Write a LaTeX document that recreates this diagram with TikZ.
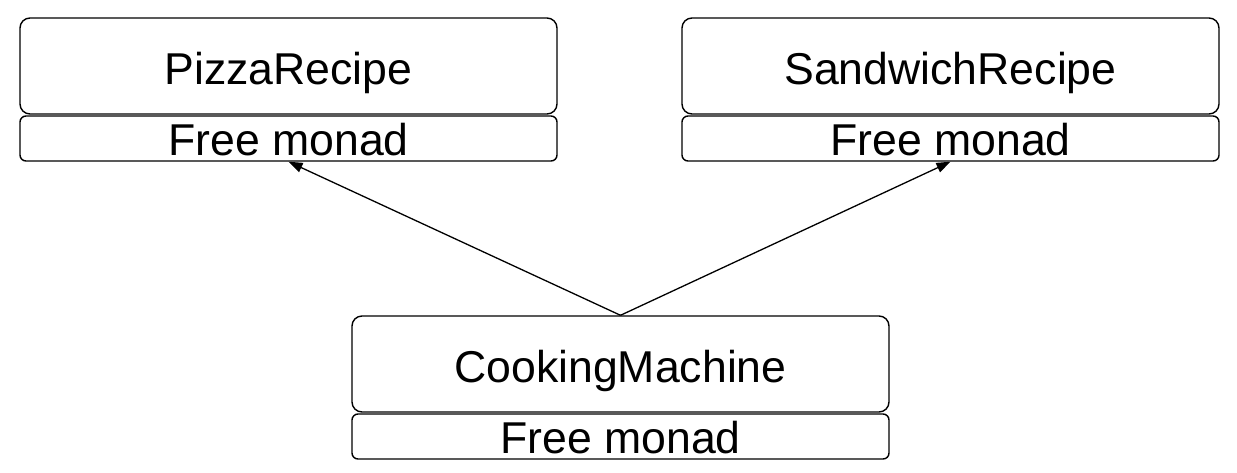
\documentclass[tikz,border=0pt]{standalone}
\usepackage{fontspec}
\setmainfont{Liberation Sans}
\usetikzlibrary{arrows.meta}
\begin{document}
\begin{tikzpicture}[x=1pt,y=-1pt,
  topbox/.style={draw, line width=1.4pt, rounded corners=10pt, minimum width=537pt, minimum height=96pt, inner sep=0pt},
  botbox/.style={draw, line width=1.4pt, rounded corners=6pt, minimum width=537pt, minimum height=45pt, inner sep=0pt},
  lbl/.style={anchor=base, inner sep=0pt, font=\fontsize{44.6pt}{50pt}\selectfont},
  conn/.style={line width=1.3pt, -{Triangle[length=14pt,width=10pt]}}]
\useasboundingbox (0,0) rectangle (1237,472);
% Pizza
\node[topbox] (pt) at (288.5,66) {};
\node[botbox] (pb) at (288.5,138.5) {};
\node[lbl] (ptl) at (288.5,84) {PizzaRecipe};
\node[lbl] (pbl) at (288.5,155) {Free monad};
% Sandwich
\node[topbox] (st) at (950.5,66) {};
\node[botbox] (sb) at (950.5,138.5) {};
\node[lbl] (stl) at (950.5,84) {SandwichRecipe};
\node[lbl] (sbl) at (950.5,155) {Free monad};
% Cooking machine
\node[topbox] (ct) at (620.5,364) {};
\node[botbox] (cb) at (620.5,436.5) {};
\node[lbl] (ctl) at (620.5,382) {CookingMachine};
\node[lbl] (cbl) at (620.5,453) {Free monad};
% connectors
\draw[conn] (ct.north) -- (pb.south);
\draw[conn] (ct.north) -- (sb.south);
\end{tikzpicture}
\end{document}
